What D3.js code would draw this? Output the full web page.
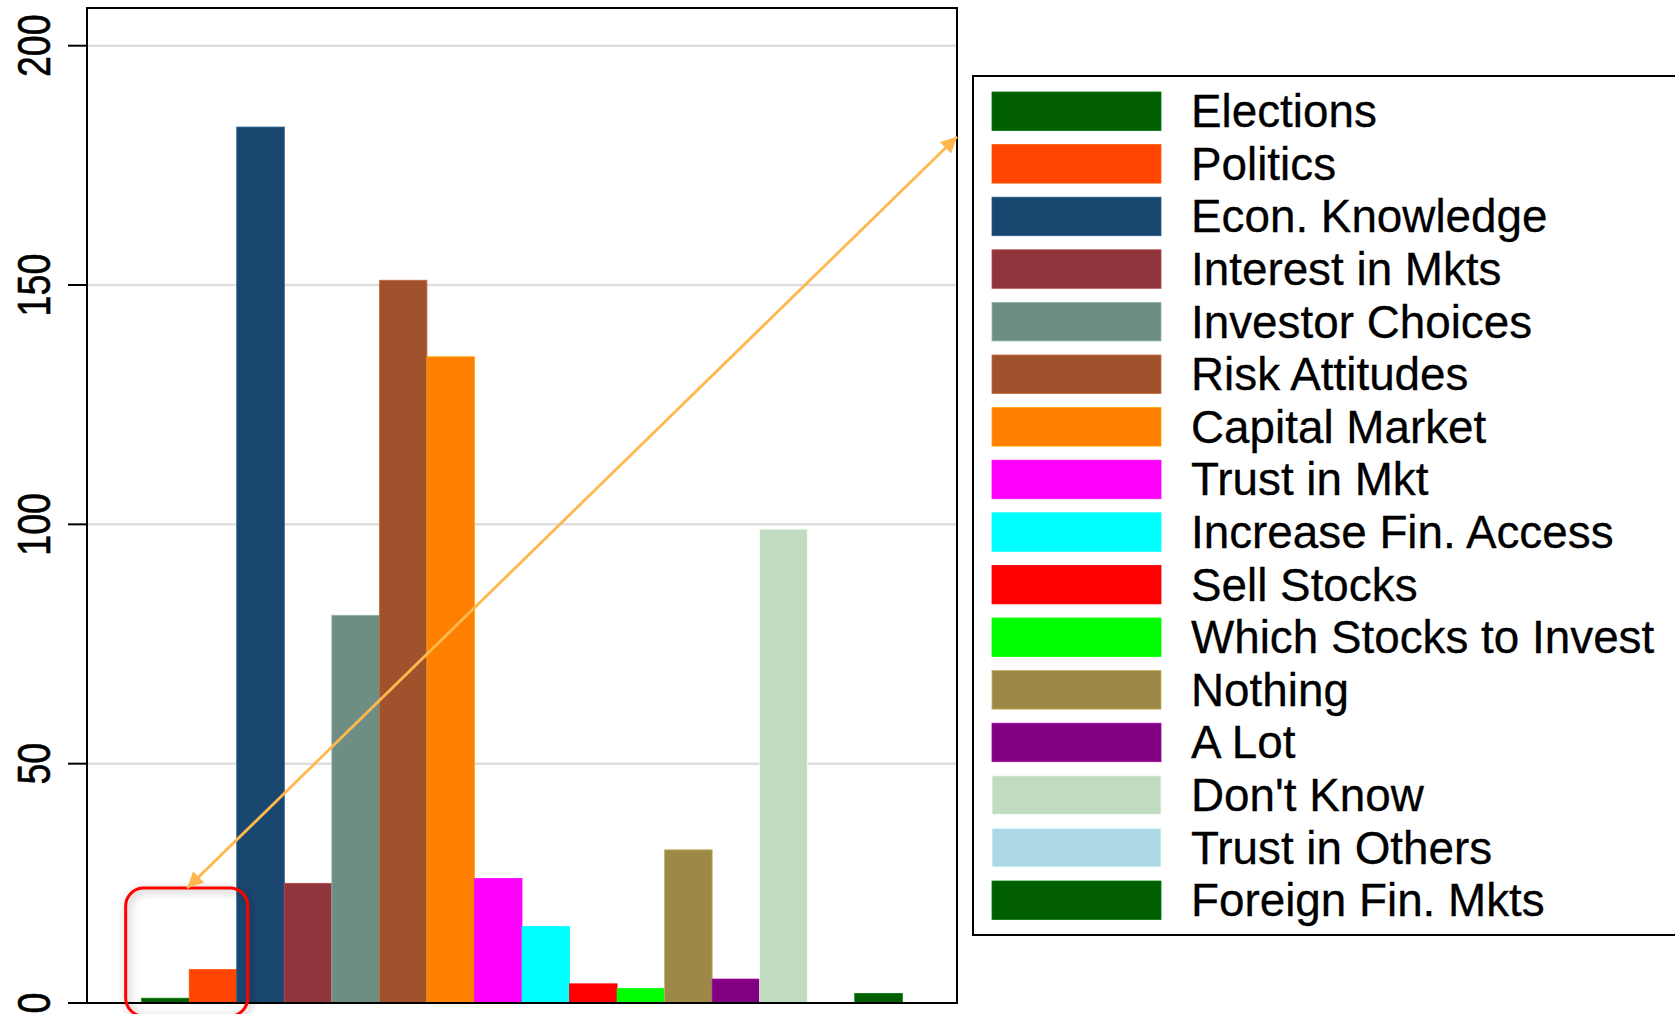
<!DOCTYPE html>
<html>
<head>
<meta charset="utf-8">
<script src="https://cdn.jsdelivr.net/npm/d3@7"></script>
<style>
    body { margin: 0; background: #fff; }
    svg { display: block; font-family: 'Liberation Sans', Arial, sans-serif; }
</style>
</head>
<body>
<div id="chart"></div>
<script>
// Categories, counts and bar colours
const categories = [
    'Elections', 'Politics', 'Econ. Knowledge', 'Interest in Mkts',
    'Investor Choices', 'Risk Attitudes', 'Capital Market', 'Trust in Mkt',
    'Increase Fin. Access', 'Sell Stocks', 'Which Stocks to Invest', 'Nothing',
    'A Lot', "Don't Know", 'Trust in Others', 'Foreign Fin. Mkts'
];
const counts = [1, 7, 183, 25, 81, 151, 135, 26, 16, 4, 3, 32, 5, 99, 0, 2];
const colors = [
    '#015f01', '#ff4500', '#1a476f', '#90353b',
    '#6e8e84', '#a0522d', '#ff7f00', '#ff00ff',
    '#00ffff', '#ff0000', '#00ff00', '#9c8847',
    '#800080', '#c0dcc0', '#add8e6', '#015f01'
];
const yTicks = [0, 50, 100, 150, 200];
const gridTicks = [50, 100, 150, 200];

// Highlight annotation (values in data units)
const highlightCats = ['Elections', 'Politics'];
const arrowFrom = 24;   // y value at the lower arrow tip
const arrowTo = 181;    // y value where the arrow meets the right frame

const W = 1675, H = 1014;
const plot = { left: 87, top: 8, right: 957, bottom: 1003 };

const svg = d3.select('#chart').append('svg')
    .attr('width', W)
    .attr('height', H);

const defs = svg.append('defs');
defs.append('filter')
    .attr('id', 'shadow')
    .attr('x', '-20%').attr('y', '-20%')
    .attr('width', '140%').attr('height', '140%')
    .append('feDropShadow')
    .attr('dx', 2).attr('dy', 2)
    .attr('stdDeviation', 4)
    .attr('flood-color', '#000')
    .attr('flood-opacity', 0.35);

['start', 'end'].forEach(id => {
    defs.append('marker')
        .attr('id', 'head-' + id)
        .attr('viewBox', '0 0 10 10')
        .attr('refX', 10).attr('refY', 5)
        .attr('markerUnits', 'userSpaceOnUse')
        .attr('markerWidth', 18).attr('markerHeight', 16)
        .attr('orient', id === 'start' ? 'auto-start-reverse' : 'auto')
        .append('path')
        .attr('d', 'M0,0 L10,5 L0,10 Z')
        .attr('fill', '#ffb84d');
});

// Scales
const xScale = d3.scaleBand()
    .domain(categories)
    .range([plot.left, plot.right])
    .paddingInner(0)
    .paddingOuter(1.15);

const yScale = d3.scaleLinear()
    .domain([0, 200])
    .range([plot.bottom, 45.7]);

// Grid lines
svg.append('g')
    .selectAll('line')
    .data(gridTicks)
    .enter().append('line')
    .attr('x1', plot.left)
    .attr('x2', plot.right)
    .attr('y1', d => yScale(d))
    .attr('y2', d => yScale(d))
    .style('stroke', '#dedede')
    .style('stroke-width', 2.5);

// Bars
svg.append('g')
    .selectAll('rect')
    .data(categories)
    .enter().append('rect')
    .attr('x', d => xScale(d))
    .attr('y', (d, i) => yScale(counts[i]))
    .attr('width', xScale.bandwidth())
    .attr('height', (d, i) => plot.bottom - yScale(counts[i]))
    .style('fill', (d, i) => colors[i])
    .style('stroke', (d, i) => d3.color(colors[i]).brighter(0.7))
    .style('stroke-width', (d, i) => counts[i] > 0 ? 0.8 : 0);

// Plot frame
svg.append('rect')
    .attr('x', plot.left)
    .attr('y', plot.top)
    .attr('width', plot.right - plot.left)
    .attr('height', plot.bottom - plot.top)
    .style('fill', 'none')
    .style('stroke', '#000')
    .style('stroke-width', 2);

// Y axis ticks and rotated labels
const yAxis = svg.append('g');
yAxis.selectAll('line')
    .data(yTicks)
    .enter().append('line')
    .attr('x1', 68)
    .attr('x2', plot.left)
    .attr('y1', d => yScale(d))
    .attr('y2', d => yScale(d))
    .style('stroke', '#000')
    .style('stroke-width', 2);

yAxis.selectAll('text')
    .data(yTicks)
    .enter().append('text')
    .attr('transform', d => `translate(50,${yScale(d)}) rotate(-90) scale(0.8,1)`)
    .attr('text-anchor', 'middle')
    .style('font-size', '47px')
    .style('fill', '#000')
    .style('stroke', '#000')
    .style('stroke-width', 0.6)
    .text(d => d);

// Highlight box round the first two bars
const bw = xScale.bandwidth();
const boxX0 = xScale(highlightCats[0]) - 16;
const boxX1 = xScale(highlightCats[1]) + bw + 11;
svg.append('rect')
    .attr('x', boxX0)
    .attr('y', yScale(arrowFrom))
    .attr('width', boxX1 - boxX0)
    .attr('height', H + 2 - yScale(arrowFrom))
    .attr('rx', 18)
    .style('fill', 'none')
    .style('stroke', '#ff0000')
    .style('stroke-width', 3)
    .attr('filter', 'url(#shadow)');

// Double headed arrow from the box to the frame
svg.append('line')
    .attr('x1', xScale(highlightCats[1]) - 2)
    .attr('y1', yScale(arrowFrom))
    .attr('x2', plot.right)
    .attr('y2', yScale(arrowTo))
    .style('stroke', '#ffb84d')
    .style('stroke-width', 2.8)
    .attr('marker-start', 'url(#head-start)')
    .attr('marker-end', 'url(#head-end)');

// Legend
const legend = { left: 973, top: 76, bottom: 935, swX: 992, swW: 169, swH: 38.5, firstY: 92, step: 52.6, textX: 1191 };

svg.append('rect')
    .attr('x', legend.left)
    .attr('y', legend.top)
    .attr('width', W + 20 - legend.left)
    .attr('height', legend.bottom - legend.top)
    .style('fill', '#fff')
    .style('stroke', '#000')
    .style('stroke-width', 2);

const items = svg.append('g')
    .selectAll('g')
    .data(categories)
    .enter().append('g')
    .attr('transform', (d, i) => `translate(0,${legend.firstY + i * legend.step})`);

items.append('rect')
    .attr('x', legend.swX)
    .attr('y', 0)
    .attr('width', legend.swW)
    .attr('height', legend.swH)
    .style('fill', (d, i) => colors[i])
    .style('stroke', (d, i) => d3.color(colors[i]).brighter(0.7))
    .style('stroke-width', 0.8);

items.append('text')
    .attr('x', legend.textX)
    .attr('y', legend.swH / 2 + 16)
    .style('font-size', '45.8px')
    .style('fill', '#000')
    .style('stroke', '#000')
    .style('stroke-width', 0.3)
    .text(d => d);
</script>
</body>
</html>
